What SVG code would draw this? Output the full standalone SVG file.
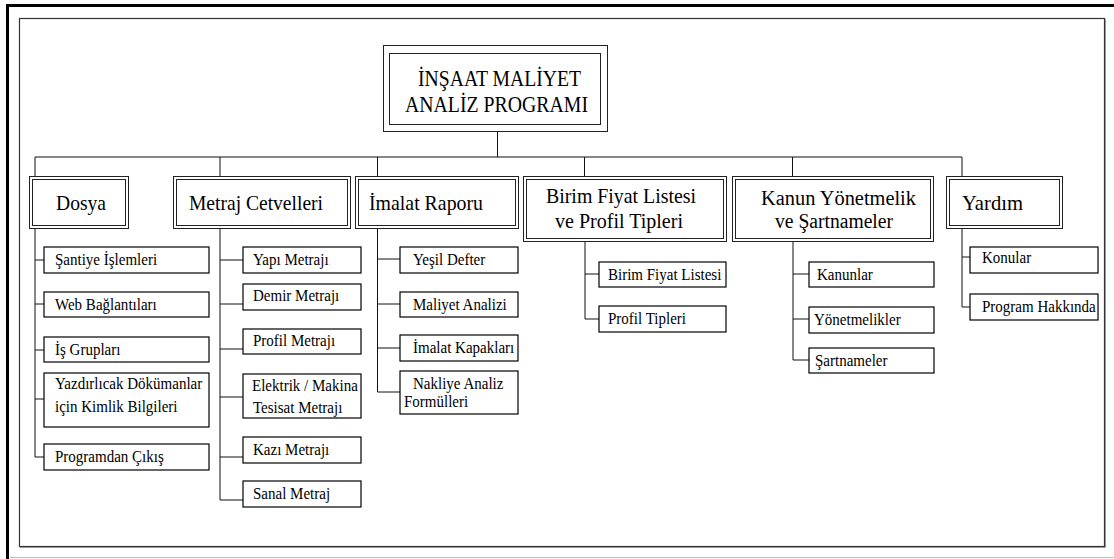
<svg xmlns="http://www.w3.org/2000/svg" width="1114" height="559" viewBox="0 0 1114 559">
<style>
text{font-family:"Liberation Serif","Times New Roman",serif;fill:#000}
.t1{font-size:22px}
.t1s{font-size:20px}
.t0{font-size:22.5px}
.t2{font-size:16.5px;transform-box:fill-box;transform-origin:0 0;transform:scaleX(0.91)}
.dbl{fill:none;stroke:#222;stroke-width:1}
.box{fill:#fff;stroke:#000;stroke-width:1.2}
.con{fill:none;stroke:#111;stroke-width:1}
</style>
<rect x="0" y="0" width="1114" height="559" fill="#fff"/>
<g id="frame">
<path d="M7.5,559 V5.5 H1114" fill="none" stroke="#000" stroke-width="3"/>
<line x1="10" y1="557.5" x2="1114" y2="557.5" stroke="#bbb" stroke-width="1"/>
<rect x="19.5" y="18.5" width="1085" height="528" fill="none" stroke="#333" stroke-width="1.2"/>
<path d="M1105.5,19 V547.5 H20" fill="none" stroke="#999" stroke-width="1"/>
</g>
<g id="connectors">
<path class="con" d="M497.5,131 V157 M35,157 H962 M35,157 V177 M220,157 V177 M377.5,157 V177 M584.5,157 V177 M792.5,157 V177 M962,157 V177"/>
<path class="con" d="M35,229 V457 H44 M35,260 H44 M35,304 H44 M35,350 H44 M35,399 H44"/>
<path class="con" d="M220,229 V500 H243 M220,260 H243 M220,304 H243 M220,349 H243 M220,397 H243 M220,457 H243"/>
<path class="con" d="M377.5,229 V392 H400 M377.5,259 H400 M377.5,304 H400 M377.5,348 H400"/>
<path class="con" d="M585,241 V319 H599 M585,274 H599"/>
<path class="con" d="M793,241 V360 H809 M793,274 H809 M793,319 H809"/>
<path class="con" d="M962,229 V307 H970 M962,257 H970"/>
</g>
<g id="title">
<rect class="dbl" x="383.5" y="45.5" width="224" height="86"/>
<rect class="dbl" x="389.5" y="53.5" width="211" height="71"/>
<text class="t0" x="418" y="86" textLength="163" lengthAdjust="spacingAndGlyphs">İNŞAAT MALİYET</text>
<text class="t0" x="405" y="112" textLength="183" lengthAdjust="spacingAndGlyphs">ANALİZ  PROGRAMI</text>
</g>
<g id="dosya">
<rect class="dbl" x="29.5" y="176.5" width="99" height="52"/>
<rect class="dbl" x="32.5" y="179.5" width="93" height="46"/>
<text class="t1" x="56" y="209.5" textLength="50" lengthAdjust="spacingAndGlyphs">Dosya</text>
</g>
<g id="metraj">
<rect class="dbl" x="173.5" y="176.5" width="177" height="52"/>
<rect class="dbl" x="176.5" y="179.5" width="171" height="46"/>
<text class="t1" x="189" y="209.5" textLength="134" lengthAdjust="spacingAndGlyphs">Metraj Cetvelleri</text>
</g>
<g id="imalat">
<rect class="dbl" x="355.5" y="176.5" width="163" height="52"/>
<rect class="dbl" x="358.5" y="179.5" width="157" height="46"/>
<text class="t1" x="369" y="209.5" textLength="114" lengthAdjust="spacingAndGlyphs">İmalat Raporu</text>
</g>
<g id="birim">
<rect class="dbl" x="523.5" y="176.5" width="203" height="65"/>
<rect class="dbl" x="526.5" y="179.5" width="197" height="59"/>
<text class="t1" x="546" y="203" textLength="150" lengthAdjust="spacingAndGlyphs">Birim Fiyat Listesi</text>
<text class="t1" x="555" y="228" textLength="128" lengthAdjust="spacingAndGlyphs">ve Profil Tipleri</text>
</g>
<g id="kanun">
<rect class="dbl" x="732.5" y="176.5" width="201" height="65"/>
<rect class="dbl" x="735.5" y="179.5" width="195" height="59"/>
<text class="t1s" x="761" y="204.5" textLength="155" lengthAdjust="spacingAndGlyphs">Kanun  Yönetmelik</text>
<text class="t1s" x="775" y="227.5" textLength="118" lengthAdjust="spacingAndGlyphs">ve Şartnameler</text>
</g>
<g id="yardim">
<rect class="dbl" x="946.5" y="176.5" width="116" height="52"/>
<rect class="dbl" x="949.5" y="179.5" width="110" height="46"/>
<text class="t1" x="962" y="209.5" textLength="61" lengthAdjust="spacingAndGlyphs">Yardım</text>
</g>
<g id="santiye"><rect class="box" x="44" y="247" width="165" height="26"/><text class="t2" x="55" y="265">Şantiye İşlemleri</text></g>
<g id="web"><rect class="box" x="44" y="292" width="165" height="25"/><text class="t2" x="55" y="310">Web Bağlantıları</text></g>
<g id="isgruplari"><rect class="box" x="44" y="337" width="165" height="25"/><text class="t2" x="55" y="355">İş Grupları</text></g>
<g id="yazdir"><rect class="box" x="44" y="373" width="165" height="54"/><text class="t2" x="55" y="389">Yazdırlıcak Dökümanlar</text><text class="t2" x="55" y="412">için Kimlik Bilgileri</text></g>
<g id="cikis"><rect class="box" x="44" y="444" width="165" height="26"/><text class="t2" x="55" y="462">Programdan Çıkış</text></g>
<g id="yapi"><rect class="box" x="243" y="247" width="118" height="26"/><text class="t2" x="253" y="265">Yapı Metrajı</text></g>
<g id="demir"><rect class="box" x="243" y="284" width="118" height="26"/><text class="t2" x="253" y="301">Demir Metrajı</text></g>
<g id="profilm"><rect class="box" x="243" y="329" width="118" height="25"/><text class="t2" x="253" y="346">Profil Metrajı</text></g>
<g id="elektrik"><rect class="box" x="243" y="374" width="118" height="44"/><text class="t2" x="252" y="391">Elektrik / Makina</text><text class="t2" x="253" y="413">Tesisat  Metrajı</text></g>
<g id="kazi"><rect class="box" x="243" y="437" width="118" height="26"/><text class="t2" x="253" y="455">Kazı Metrajı</text></g>
<g id="sanal"><rect class="box" x="243" y="481" width="118" height="26"/><text class="t2" x="253" y="499">Sanal Metraj</text></g>
<g id="yesil"><rect class="box" x="400" y="247" width="118" height="26"/><text class="t2" x="413" y="265">Yeşil Defter</text></g>
<g id="maliyet"><rect class="box" x="400" y="292" width="118" height="25"/><text class="t2" x="413" y="310">Maliyet Analizi</text></g>
<g id="kapaklar"><rect class="box" x="400" y="335" width="118" height="26"/><text class="t2" x="413" y="353">İmalat Kapakları</text></g>
<g id="nakliye"><rect class="box" x="400" y="371" width="118" height="43"/><text class="t2" x="413" y="389">Nakliye Analiz</text><text class="t2" x="404" y="407">Formülleri</text></g>
<g id="bfl"><rect class="box" x="599" y="262" width="127" height="25"/><text class="t2" x="608" y="280">Birim Fiyat Listesi</text></g>
<g id="ptipleri"><rect class="box" x="599" y="306" width="127" height="26"/><text class="t2" x="608" y="324">Profil Tipleri</text></g>
<g id="kanunlar"><rect class="box" x="809" y="262" width="125" height="25"/><text class="t2" x="817" y="280">Kanunlar</text></g>
<g id="yonetmelikler"><rect class="box" x="809" y="307" width="125" height="26"/><text class="t2" x="814" y="325">Yönetmelikler</text></g>
<g id="sartnameler"><rect class="box" x="809" y="348" width="125" height="25"/><text class="t2" x="815" y="366">Şartnameler</text></g>
<g id="konular"><rect class="box" x="970" y="247" width="128" height="26"/><text class="t2" x="982" y="263">Konular</text></g>
<g id="hakkinda"><rect class="box" x="970" y="294" width="128" height="26"/><text class="t2" x="982" y="312">Program Hakkında</text></g>
</svg>
